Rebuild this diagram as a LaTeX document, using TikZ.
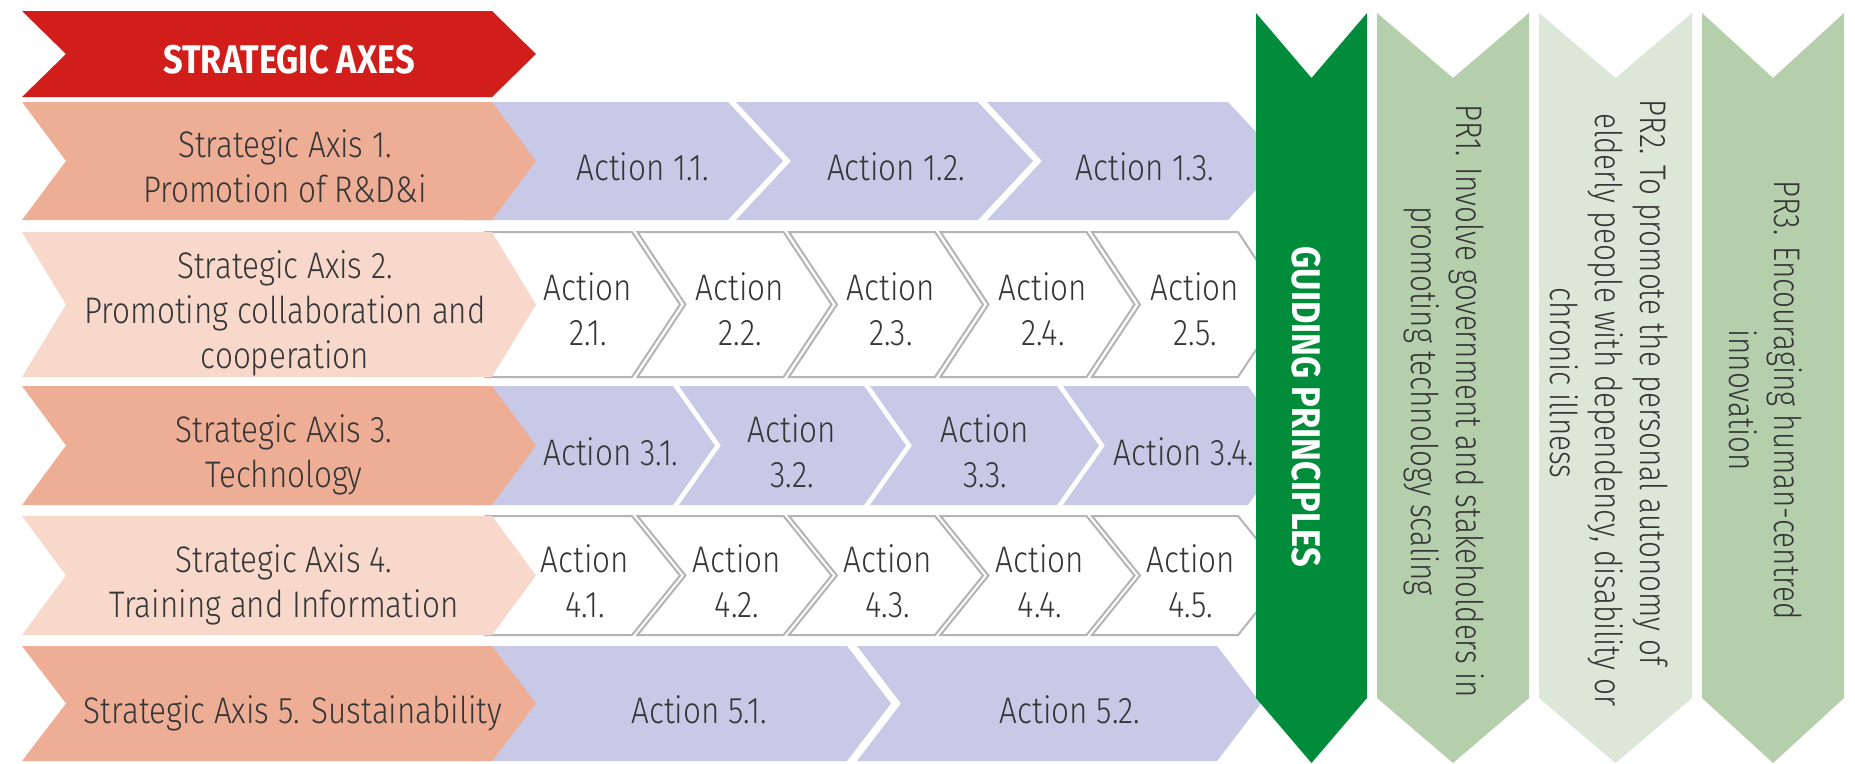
\documentclass[tikz,border=0pt]{standalone}
\usepackage{fontspec}
\setmainfont{Fira Sans}[UprightFont=* Light, BoldFont=* Bold, FakeStretch=0.85]
\newfontfamily\prfont{Fira Sans}[UprightFont=* Light, FakeStretch=0.80]
\newfontfamily\condbold{Fira Sans}[UprightFont=* Bold, FakeStretch=0.86]
\definecolor{axred}{HTML}{D21E1A}
\definecolor{salmon}{HTML}{EEAE96}
\definecolor{pinkl}{HTML}{F7D8CB}
\definecolor{lav}{HTML}{C8C9E6}
\definecolor{bgray}{HTML}{B4B4B4}
\definecolor{gpgreen}{HTML}{008C3A}
\definecolor{prgreen}{HTML}{B5CEAC}
\definecolor{prlight}{HTML}{DCE7D7}
\definecolor{txtgray}{HTML}{363636}
% horizontal chevron: [style]{left x}{right x}{top y}{bottom y}{depth}
\newcommand\chev[6][]{\path[#1] (#2,#4) -- (#3,#4) -- ({#3+#6},{(#4+#5)/2}) -- (#3,#5) -- (#2,#5) -- ({#2+#6},{(#4+#5)/2}) -- cycle;}
% vertical chevron column: [style]{left x}{right x}
\newcommand\vchev[3][]{\path[#1] (#2,13) -- ({(#2+#3)/2},78) -- (#3,13) -- (#3,698) -- ({(#2+#3)/2},763) -- (#2,698) -- cycle;}
\tikzset{
  txt/.style={text=txtgray, font=\fontsize{37}{45}\selectfont, inner sep=0pt, align=center},
  prtxt/.style={text=txtgray, font=\prfont\fontsize{37}{45}\selectfont, inner sep=0pt, align=center, rotate=-90, anchor=center},
  hdrtxt/.style={text=white, font=\condbold\fontsize{40}{40}\selectfont, inner sep=0pt},
  lavbox/.style={fill=lav},
  whitebox/.style={fill=white, draw=bgray, line width=2pt},
  salbox/.style={fill=salmon},
  pinkbox/.style={fill=pinkl},
  redbox/.style={fill=axred},
}
\begin{document}
\begin{tikzpicture}[x=1pt,y=-1pt]
\useasboundingbox (0,0) rectangle (1855,763);
\fill[white] (0,0) rectangle (1855,763);
\begin{scope}
\clip (0,0) rectangle (1855,763);
% ---- row 1 actions
\chev[lavbox]{470}{728}{102}{220}{55}
\chev[lavbox]{736}{978}{102}{220}{55}
\chev[lavbox]{987}{1228}{102}{220}{55}
% ---- row 2 actions
\foreach \i in {0,...,4}{
  \chev[whitebox]{486+151.5*\i}{632+151.5*\i}{232}{377}{48}
}
% ---- row 3 actions
\chev[lavbox]{470}{673}{386}{505}{42}
\chev[lavbox]{679}{864}{386}{505}{42}
\chev[lavbox]{870}{1057}{386}{505}{42}
\chev[lavbox]{1063}{1248}{386}{505}{42}
% ---- row 4 actions
\foreach \i in {0,...,4}{
  \chev[whitebox]{486+151.5*\i}{632+151.5*\i}{516}{635}{48}
}
% ---- row 5 actions
\chev[lavbox]{470}{847}{646}{761}{44}
\chev[lavbox]{857}{1217}{646}{761}{44}
% ---- left column
\chev[redbox]{22}{492}{11}{97}{44}
\chev[salbox]{22}{492}{102}{220}{44}
\chev[pinkbox]{22}{492}{232}{377}{44}
\chev[salbox]{22}{492}{386}{505}{44}
\chev[pinkbox]{22}{492}{516}{635}{44}
\chev[salbox]{22}{492}{646}{761}{44}
% ---- guiding principle columns
\vchev[fill=gpgreen]{1256}{1367}
\vchev[fill=prgreen]{1377}{1529}
\vchev[fill=prlight]{1539}{1692}
\vchev[fill=prgreen]{1702}{1844}
\end{scope}
% ---- texts (anchor=base is the baseline of the last line)
\node[hdrtxt, anchor=base] (hdr) at (289,73) {STRATEGIC AXES};
\node[txt, anchor=base] (ax1) at (285,202) {Strategic Axis 1.\\Promotion of R\&D\&i};
\node[txt, anchor=base] (ax2) at (285,368) {Strategic Axis 2.\\Promoting collaboration and\\cooperation};
\node[txt, anchor=base] (ax3) at (284,487) {Strategic Axis 3.\\Technology};
\node[txt, anchor=base] (ax4) at (284,617) {Strategic Axis 4.\\Training and Information};
\node[txt, anchor=base] (ax5) at (293,723) {Strategic Axis 5. Sustainability};
% row 1
\node[txt, anchor=base] (a11) at (643,180) {Action 1.1.};
\node[txt, anchor=base] (a12) at (896,180) {Action 1.2.};
\node[txt, anchor=base] (a13) at (1145,180) {Action 1.3.};
% row 2
\node[txt, anchor=base] (a21) at (588,345) {Action\\2.1.};
\node[txt, anchor=base] (a22) at (740,345) {Action\\2.2.};
\node[txt, anchor=base] (a23) at (891,345) {Action\\2.3.};
\node[txt, anchor=base] (a24) at (1043,345) {Action\\2.4.};
\node[txt, anchor=base] (a25) at (1195,345) {Action\\2.5.};
% row 3
\node[txt, anchor=base] (a31) at (611,465) {Action 3.1.};
\node[txt, anchor=base] (a32) at (792,487) {Action\\3.2.};
\node[txt, anchor=base] (a33) at (985,487) {Action\\3.3.};
\node[txt, anchor=base] (a34) at (1184,465) {Action 3.4.};
% row 4
\node[txt, anchor=base] (a41) at (585,617) {Action\\4.1.};
\node[txt, anchor=base] (a42) at (737,617) {Action\\4.2.};
\node[txt, anchor=base] (a43) at (888,617) {Action\\4.3.};
\node[txt, anchor=base] (a44) at (1040,617) {Action\\4.4.};
\node[txt, anchor=base] (a45) at (1191,617) {Action\\4.5.};
% row 5
\node[txt, anchor=base] (a51) at (699,723) {Action 5.1.};
\node[txt, anchor=base] (a52) at (1070,723) {Action 5.2.};
% columns
\node[text=white, font=\condbold\fontsize{40}{40}\selectfont, inner sep=0pt, rotate=-90, anchor=center] (gp) at (1306,407) {GUIDING PRINCIPLES};
\node[prtxt] (pr1) at (1444,401) {PR1. Involve government and stakeholders in\\promoting technology scaling};
\node[prtxt] (pr2) at (1609,383) {PR2. To promote the personal autonomy of\\\hspace*{54pt}elderly people with dependency, disability or\\chronic illness};
\node[prtxt] (pr3) at (1766,400) {PR3. Encouraging human-centred\\innovation};
\end{tikzpicture}
\end{document}
